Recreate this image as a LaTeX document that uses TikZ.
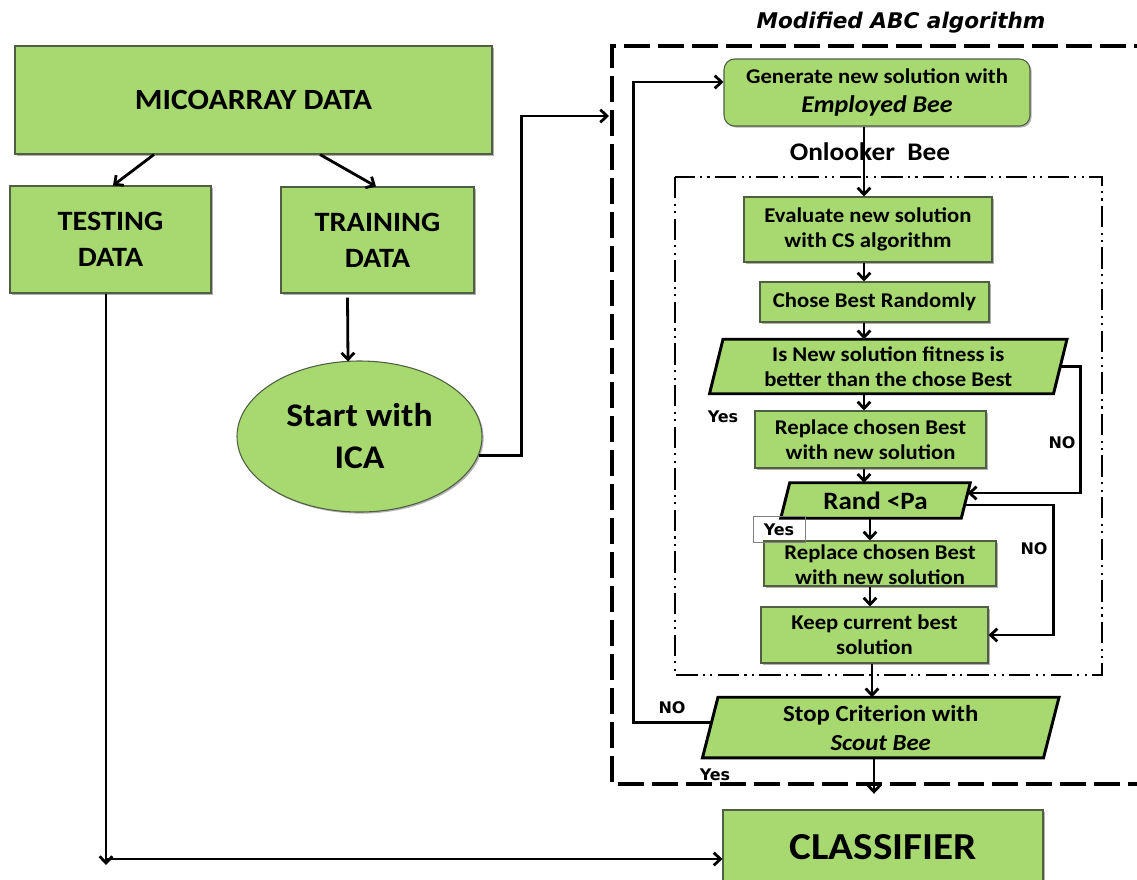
\documentclass[tikz,border=0pt]{standalone}
\usepackage{fontspec}
\setmainfont{Carlito}[FakeStretch=1.08]
\newfontfamily\dvfont{DejaVu Sans}
\usetikzlibrary{arrows.meta,calc,shapes.geometric,shadows,backgrounds}
\definecolor{boxgreen}{RGB}{168,216,112}
\definecolor{boxline}{RGB}{80,95,68}
\begin{document}
\begin{tikzpicture}[x=0.75pt,y=-0.75pt,
  box/.style={draw=boxline, line width=0.8pt, fill=boxgreen, inner sep=0pt, align=center,
    drop shadow={shadow xshift=1.2pt,shadow yshift=-1.2pt,opacity=0.3,fill=black}},
  ptext/.style={inner sep=0pt, align=center},
  para/.style={draw=black, line width=2.2pt, fill=boxgreen, line join=miter},
  conn/.style={line width=2.1pt},
  arr/.style={conn, -{Straight Barb[length=5pt,width=9.5pt]}},
  lbl/.style={font=\dvfont\bfseries\fontsize{12}{14}\selectfont, inner sep=0pt},
  fMicro/.style={font=\bfseries\fontsize{22}{26}\selectfont},
  fData/.style={font=\bfseries\fontsize{21}{27}\selectfont},
  fIca/.style={font=\bfseries\fontsize{24.75}{31.5}\selectfont},
  fS/.style={font=\bfseries\fontsize{15.75}{18.75}\selectfont},
  fGen/.style={font=\bfseries\fontsize{15.75}{21.75}\selectfont},
  fStop/.style={font=\bfseries\fontsize{17.25}{21.75}\selectfont},
  fRand/.style={font=\bfseries\fontsize{18.75}{22}\selectfont},
  fOn/.style={font=\bfseries\fontsize{19}{22}\selectfont},
  fCls/.style={font=\bfseries\fontsize{28.6}{32}\selectfont},
  fTitle/.style={font=\dvfont\bfseries\itshape\fontsize{16.2}{19}\selectfont}
]
\path[use as bounding box, clip] (0,0) rectangle (1137,879);

% frames
\draw[line width=2.4pt, dash pattern=on 19.5pt off 6pt] (1160,46) -- (612,46) -- (612,784) -- (1160,784);
\draw[line width=2pt, dash pattern=on 16pt off 4pt on 1.6pt off 4pt on 1.6pt off 4pt] (675,177) rectangle (1102,675);

% left part
\node[box, fMicro, minimum width=357.75pt, minimum height=81pt] (micro) at (253.5,100) {MICOARRAY DATA};
\node[box, fData, minimum width=150.75pt, minimum height=80.25pt] (test) at (110.5,239.5) {TESTING\\DATA};
\node[box, fData, minimum width=144.75pt, minimum height=79.5pt] (train) at (377.5,240) {TRAINING\\DATA};
\node[box, fIca, ellipse, minimum width=183.75pt, minimum height=113.25pt] (ica) at (359.5,436.5) {Start with\\ICA};

% right part
\node[fTitle, inner sep=0pt] (title) at (901,23) {Modified ABC algorithm};
\node[box, fGen, rounded corners=8pt, minimum width=229.5pt, minimum height=50.25pt] (gen) at (877,92.5) {Generate new solution with\\{\fontsize{18}{21.75}\selectfont\itshape Employed Bee}};
\node[fOn, inner sep=0pt] (onl) at (870,152) {Onlooker\ \ Bee};
\node[box, fS, minimum width=186pt, minimum height=48.75pt] (eval) at (868,229.5) {Evaluate new solution\\with CS algorithm};
\node[box, fS, minimum width=171.75pt, minimum height=30pt] (chose) at (874.5,302) {Chose Best Randomly};
\node[ptext, fS, minimum width=257.6pt, minimum height=40.5pt] (isnew) at (888.25,366.5) {Is New solution fitness is\\better than the chose Best};
\node[box, fS, minimum width=173.25pt, minimum height=42.75pt] (rep1) at (870.5,439.5) {Replace chosen Best\\with new solution};
\node[ptext, fRand, minimum width=135pt, minimum height=26.25pt] (rand) at (875.5,500.5) {Rand <Pa};
\node[box, minimum width=174pt, minimum height=33.75pt] (rep2) at (880,563.5) {};
\node[ptext, fS] (rep2t) at (880,564.5) {Replace chosen Best\\with new solution};
\node[box, fS, minimum width=170.25pt, minimum height=42pt] (keep) at (874.5,635) {Keep current best\\solution};
\node[ptext, fStop, minimum width=255.4pt, minimum height=45pt] (stop) at (880.75,727.5) {Stop Criterion with\\{\itshape Scout Bee}};
\node[box, fCls, minimum width=240pt, minimum height=56.25pt] (cls) at (883,847.5) {CLASSIFIER};

% parallelograms behind their texts
\begin{scope}[on background layer]
\filldraw[para] ($(isnew.north west)+(6.75,0)$) -- ($(isnew.north east)+(6.75,0)$) -- ($(isnew.south east)+(-6.75,0)$) -- ($(isnew.south west)+(-6.75,0)$) -- cycle;
\filldraw[para] ($(rand.north west)+(4.5,0)$) -- ($(rand.north east)+(4.5,0)$) -- ($(rand.south east)+(-4.5,0)$) -- ($(rand.south west)+(-4.5,0)$) -- cycle;
\filldraw[para] ($(stop.north west)+(7.75,0)$) -- ($(stop.north east)+(7.75,0)$) -- ($(stop.south east)+(-7.75,0)$) -- ($(stop.south west)+(-7.75,0)$) -- cycle;
\end{scope}

% labels
\node[lbl] (yes1) at (723,417) {Yes};
\node[lbl] (no1) at (1062,443) {NO};
\node[lbl, draw=gray, line width=0.6pt, minimum width=39pt, minimum height=20pt] (yes2) at (779,529.5) {Yes};
\node[lbl] (no2) at (1034,549) {NO};
\node[lbl] (no3) at (672,708) {NO};
\node[lbl] (yes3) at (715,775) {Yes};

% coordinates
\coordinate (abcin) at (609,116);
\coordinate (bend) at (106,859);

% connectors left
\draw[arr] ($(micro.south)+(-99.5,0)$) -- ($(test.north)+(2.5,0)$);
\draw[arr] ($(micro.south)+(66.5,0)$) -- ($(train.north)+(-1.5,0)$);
\draw[arr] ($(train.south)+(-30,4)$) -- ($(ica.north)+(-11.5,1)$);
\draw[arr] (ica.-9) -- ++(43,0) |- (abcin);
\draw[arr] ($(test.south)+(-4.5,0)$) -- ($(bend)+(0,6)$);
\draw[arr] (bend) -- (bend -| cls.west);

% connectors right
\draw[arr] ($(gen.south)+(-13,0)$) -- ($(eval.north)+(-4,0)$);
\draw[arr] ($(eval.south)+(-4,0)$) -- ($(chose.north)+(-10.5,0)$);
\draw[arr] ($(chose.south)+(-10.5,0)$) -- ($(isnew.north)+(-24.25,0)$);
\draw[arr] ($(isnew.south)+(-24.25,0)$) -- ($(rep1.north)+(-6.5,0)$);
\draw[arr] ($(rep1.south)+(-6.5,0)$) -- ($(rand.north)+(-11.5,0)$);
\draw[arr] ($(rand.south)+(-5.5,0)$) -- ($(rep2.north)+(-10,0)$);
\draw[arr] ($(rep2.south)+(-10,0)$) -- ($(keep.north)+(-4.5,0)$);
\draw[arr] ($(keep.south)+(-2.5,0)$) -- ($(stop.north)+(-8.75,0)$);
\draw[arr] ($(stop.south)+(-6.75,0)$) -- ++(0,36);
\draw[arr] (isnew.east) -- ++(20,0) |- ($(rand.east)+(2,-7.5)$);
\draw[arr] ($(rand.east)+(-1,4.5)$) -- ++(89,0) |- (keep.east);
\draw[arr] ($(stop.west)+(1.25,-5)$) -- ++(-77.75,0) |- ($(gen.west)+(0,-10.5)$);
\end{tikzpicture}
\end{document}
